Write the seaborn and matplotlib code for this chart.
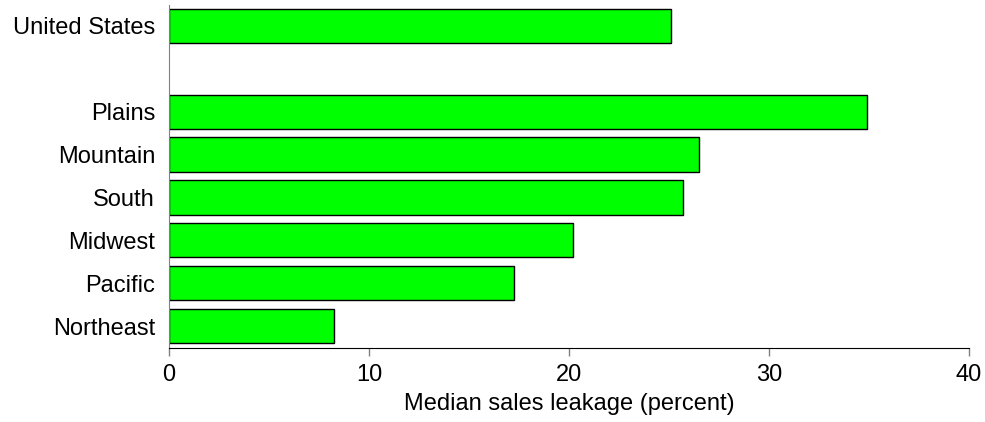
import numpy as np
import pandas as pd
import matplotlib
matplotlib.use('Agg')
import matplotlib.pyplot as plt
import seaborn as sns

# data
regions = ['United States', 'Plains', 'Mountain', 'South', 'Midwest', 'Pacific', 'Northeast']
leakage = [25.1, 34.9, 26.5, 25.7, 20.2, 17.25, 8.25]
# blank slot between the national bar and the regions
order = ['United States', ' ', 'Plains', 'Mountain', 'South', 'Midwest', 'Pacific', 'Northeast']
xticks = [0, 10, 20, 30, 40]

df = pd.DataFrame({'region': regions, 'leakage': leakage})

sns.set_style('white')
plt.rcParams['font.family'] = ['Liberation Sans', 'DejaVu Sans']
plt.rcParams['text.color'] = 'black'
plt.rcParams['axes.labelcolor'] = 'black'
plt.rcParams['xtick.color'] = 'black'
plt.rcParams['ytick.color'] = 'black'

fig = plt.figure(figsize=(9.85, 4.22), dpi=100)
ax = fig.add_axes([169 / 985, 1 - 347.5 / 422, 800 / 985, 343 / 422])

sns.barplot(data=df, x='leakage', y='region', order=order, orient='h',
            color='#00ff00', saturation=1, width=0.8,
            edgecolor='black', linewidth=1, ax=ax)

ax.set_xlim(0, 40)
ax.set_ylim(len(order) - 0.5, -0.5)
ax.set_xticks(xticks)
ax.set_xticklabels([str(t) for t in xticks], fontsize=17)
ax.set_yticklabels(order, fontsize=17)
ax.set_xlabel('Median sales leakage (percent)', fontsize=17, labelpad=5)
ax.set_ylabel('')

sns.despine(ax=ax)
ax.spines['left'].set_color('#808080')
ax.spines['bottom'].set_color('black')
ax.tick_params(axis='x', length=6, width=1, color='#808080', labelcolor='black',
               direction='out', bottom=True, pad=6)
ax.tick_params(axis='y', length=0, pad=10, labelcolor='black')

fig.savefig('out.png', dpi=100)
